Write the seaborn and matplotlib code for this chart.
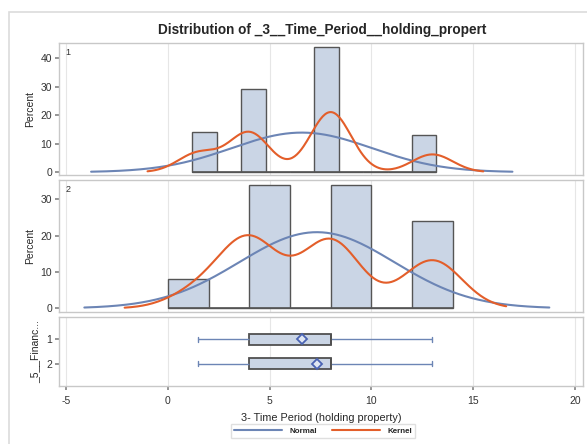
import numpy as np
import pandas as pd
import matplotlib
matplotlib.use('Agg')
import matplotlib.pyplot as plt
from matplotlib.patches import Rectangle
from matplotlib.lines import Line2D
import seaborn as sns

# values of the time period and how many (per 100) fall on each, by group
values = [1.5, 4, 8, 13]
counts_g1 = [14, 29, 44, 13]
counts_g2 = [8, 34, 34, 24]
groups = ['1', '2']

# histogram bins
bin_start = {'1': 1.2, '2': 0.0}
bin_width = {'1': 1.2, '2': 2.0}
n_bins = {'1': 10, '2': 7}
# kernel bandwidths
kernel_bw = {'1': 1.0, '2': 1.45}

title = 'Distribution of _3__Time_Period__holding_propert'
xlabel = '3- Time Period (holding property)'
xticks = [-5, 0, 5, 10, 15, 20]

FILL = '#cad5e5'
EDGE = '#555555'
NORMAL = '#6c85b5'
KERNEL = '#e35e2a'
FRAME = '#c8c8c8'
GRID = '#e6e6e6'

sns.set_theme(style='white')
plt.rcParams['font.family'] = ['Liberation Sans', 'DejaVu Sans']
plt.rcParams['axes.unicode_minus'] = False

df = pd.DataFrame({
    'group': np.repeat(['1'] * 4 + ['2'] * 4, counts_g1 + counts_g2),
    'value': np.repeat(values * 2, counts_g1 + counts_g2),
})

fig = plt.figure(figsize=(5.87, 4.44), dpi=100)
W, H = 587, 444

def px_axes(left, top, right, bottom):
    return fig.add_axes([left / W, 1 - bottom / H, (right - left) / W, (bottom - top) / H])

# outer light border
fig.patches.append(Rectangle((9 / W, -0.1), 1.2, (1 - 12 / H) + 0.1, transform=fig.transFigure,
                             fill=False, edgecolor='#dcdcdc', linewidth=1.2))

fig.text(322 / W, 1 - 30 / H, title, ha='center', va='center', fontsize=9.8, fontweight='bold')

ax1 = px_axes(59, 43, 583, 175)
ax2 = px_axes(59, 180, 583, 312)
ax3 = px_axes(59, 317, 583, 386)
xlim = (-5.35, 20.4)

def style(ax):
    ax.set_xlim(xlim)
    ax.set_xticks(xticks)
    for s in ax.spines.values():
        s.set_color(FRAME)
        s.set_linewidth(1.0)
    ax.grid(axis='x', color=GRID, linewidth=0.8)
    ax.set_axisbelow(True)
    ax.tick_params(axis='both', which='both', length=3, color='#888888', labelsize=7.5,
                   labelcolor='#333333', pad=2, left=True, bottom=True)

for ax, g, ymax, yt in [(ax1, '1', 45.3, [0, 10, 20, 30, 40]), (ax2, '2', 35.3, [0, 10, 20, 30])]:
    sub = df[df['group'] == g]['value']
    edges = bin_start[g] + bin_width[g] * np.arange(n_bins[g] + 1)
    sns.histplot(x=sub, bins=edges, stat='percent', color=FILL, alpha=1,
                 edgecolor=EDGE, linewidth=1.0, ax=ax)
    # empty bins show as a line along the base
    ax.hlines(0, edges[0], edges[-1], color=EDGE, linewidth=1.2, zorder=3)

    # normal curve, scaled to percent per bin
    mu, sd = sub.mean(), sub.std()
    xn = np.linspace(mu - 3 * sd, mu + 3 * sd, 300)
    yn = 100 * bin_width[g] * np.exp(-0.5 * ((xn - mu) / sd) ** 2) / (sd * np.sqrt(2 * np.pi))
    sns.lineplot(x=xn, y=yn, color=NORMAL, linewidth=1.5, ax=ax, zorder=4)

    # kernel curve
    h = kernel_bw[g]
    xk = np.linspace(sub.min() - 2.5 * h, sub.max() + 2.5 * h, 300)
    yk = np.zeros_like(xk)
    for v in sub.values:
        yk += np.exp(-0.5 * ((xk - v) / h) ** 2)
    yk = 100 * bin_width[g] * yk / (len(sub) * h * np.sqrt(2 * np.pi))
    sns.lineplot(x=xk, y=yk, color=KERNEL, linewidth=1.5, ax=ax, zorder=5)

    style(ax)
    ax.set_ylim(-1.0, ymax)
    ax.set_yticks(yt)
    ax.set_ylabel('Percent', fontsize=7.5, labelpad=4)
    ax.set_xlabel('')
    ax.tick_params(axis='x', bottom=False, labelbottom=False)
    ax.text(0.012, 0.965, g, transform=ax.transAxes, ha='left', va='top', fontsize=6.5, color='#333333')

sns.boxplot(data=df, x='value', y='group', order=groups, orient='h', whis=(0, 100), width=0.44,
            color=FILL, saturation=1, linecolor='#505050', linewidth=1.3, showmeans=True,
            meanprops=dict(marker='D', markerfacecolor='#dfe6f2', markeredgecolor='#4a63b3',
                           markersize=5, markeredgewidth=1.3),
            whiskerprops=dict(color=NORMAL, linewidth=1.0),
            capprops=dict(color=NORMAL, linewidth=1.0),
            medianprops=dict(color='#505050', linewidth=1.3),
            showfliers=False, ax=ax3)
style(ax3)
ax3.set_ylim(1.925, -0.925)
ax3.set_ylabel('_5__Financ...', fontsize=7.5, labelpad=4)
ax3.tick_params(axis='x', pad=4)
ax3.set_xlabel(xlabel, fontsize=7.8, labelpad=5)

handles = [Line2D([], [], color=NORMAL, linewidth=1.5), Line2D([], [], color=KERNEL, linewidth=1.5)]
fig.legend(handles, ['Normal', 'Kernel'], loc='center', bbox_to_anchor=(323 / W, 1 - 431 / H),
           ncol=2, prop={'weight': 'bold', 'size': 5.8}, frameon=True, edgecolor='#d8d8d8',
           fancybox=False, handlelength=6, columnspacing=1.8, borderpad=0.4, handletextpad=0.9)

fig.savefig('out.png', dpi=100)
